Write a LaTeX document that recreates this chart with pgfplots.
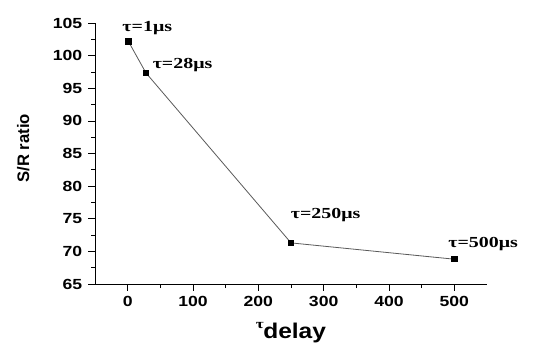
\documentclass[border=0pt]{standalone}
\usepackage{fontspec}
\setmainfont{Liberation Sans}[FakeStretch=1.2]
\newfontfamily\ylabfont{Liberation Sans}
\newfontfamily\annfont{Liberation Serif}[FakeStretch=1.3]
\newfontfamily\xlabfont{Liberation Sans}[FakeStretch=1.15]
\usepackage{pgfplots}
\pgfplotsset{compat=1.18}
\begin{document}
\begin{tikzpicture}
\begin{axis}[
  scale only axis,
  width=294pt, height=195.75pt,
  xmin=-50, xmax=550, ymin=65, ymax=105,
  axis x line*=bottom, axis y line*=left,
  axis line style={-, black, line width=0.6pt},
  xtick={0,100,...,500}, ytick={65,70,...,105},
  minor x tick num=1, minor y tick num=1,
  tick align=outside,
  major tick length=5pt, minor tick length=3pt,
  tick style={black, line width=0.5pt},
  /pgf/number format/assume math mode=true,
  ticklabel style={font=\fontsize{11}{12}\selectfont\bfseries},
  yticklabel style={xshift=-1pt},
  xticklabel style={yshift=-1pt},
  ylabel={S/R ratio},
  ylabel style={font=\fontsize{12.5}{14}\selectfont\ylabfont\bfseries, at={(axis description cs:-0.183,0.52)}, anchor=center},
  xlabel={\raisebox{0.45em}{\fontsize{10}{12}\selectfont\annfont\bfseries τ}\kern-0.5pt delay},
  xlabel style={font=\fontsize{16}{18}\selectfont\xlabfont\bfseries, at={(axis description cs:0.5,0)}, anchor=base, yshift=-40.5pt},
  clip=false,
]
\addplot[color=black!65, line width=0.6pt, mark=square*, mark size=2pt, mark options={black, solid}]
  coordinates {(1,102.2) (28,97.35) (250,71.3) (500,68.8)};
\node[font=\fontsize{11.5}{13}\selectfont\annfont\bfseries, anchor=center] at (axis cs:30,104.2) {τ=1μs};
\node[font=\fontsize{11.5}{13}\selectfont\annfont\bfseries, anchor=center] at (axis cs:84,98.5) {τ=28μs};
\node[font=\fontsize{11.5}{13}\selectfont\annfont\bfseries, anchor=center] at (axis cs:303,75.6) {τ=250μs};
\node[font=\fontsize{11.5}{13}\selectfont\annfont\bfseries, anchor=center] at (axis cs:544,71.2) {τ=500μs};
\end{axis}
\pgfresetboundingbox
\path[use as bounding box] ([xshift=-71.25pt,yshift=-45pt]current axis.south west) rectangle ([xshift=49.5pt,yshift=17.25pt]current axis.north east);
\end{tikzpicture}
\end{document}
